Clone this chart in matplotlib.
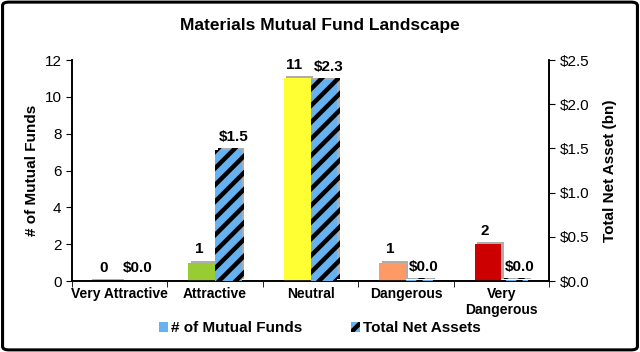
import matplotlib
matplotlib.use('Agg')
import matplotlib.pyplot as plt
import numpy as np
from matplotlib.patches import FancyBboxPatch, Patch
import matplotlib.patheffects as pe

plt.rcParams['font.family'] = ['Liberation Sans', 'DejaVu Sans']
plt.rcParams['hatch.linewidth'] = 3.2

categories = ['Very Attractive', 'Attractive', 'Neutral', 'Dangerous', 'Very\nDangerous']
fund_counts = [0, 1, 11, 1, 2]
net_assets = [0.0, 1.48, 2.27, 0.01, 0.01]
count_colors = ['#A6A6A6', '#99CC33', '#FFFF33', '#FF9966', '#CC0000']
asset_labels = ['$0.0', '$1.5', '$2.3', '$0.0', '$0.0']

fig = plt.figure(figsize=(6.4, 3.52), dpi=100)
ax = fig.add_axes([0.1125, 0.2017, 0.7455, 0.6278])
ax2 = ax.twinx()

x = np.arange(len(categories))
w = 0.28
shadow = [pe.SimplePatchShadow(offset=(1.8, 1.5), shadow_rgbFace='#8C8C8C', alpha=0.7), pe.Normal()]

bars1 = ax.bar(x - w / 2, fund_counts, w, color=count_colors, edgecolor='#A6A6A6',
               linewidth=0, path_effects=shadow, zorder=3)
# zero-height bar still shows a thin grey line in the reference
ax.plot([x[0] - w, x[0] + 0.02], [0.03, 0.03], color='#A6A6A6', lw=2, zorder=2)
bars2 = ax2.bar(x + w / 2, net_assets, w, color='#66B2F0', edgecolor='black', hatch='//',
                linewidth=0, path_effects=shadow, zorder=3)

ax.set_xlim(-0.5, len(categories) - 0.5)
ax.set_ylim(0, 12)
ax.set_yticks(np.arange(0, 13, 2))
ax2.set_ylim(0, 2.5)
ax2.set_yticks(np.arange(0, 2.51, 0.5))
ax2.set_yticklabels([f'${v:.1f}' for v in np.arange(0, 2.51, 0.5)])

ax.set_xticks(x)
ax.set_xticklabels(categories, fontweight='bold', fontsize=10)
ax.set_xticks(np.arange(-0.5, len(categories), 1), minor=True)
ax.tick_params(axis='x', which='major', length=0, pad=4)
ax.tick_params(axis='x', which='minor', length=4, direction='out')
ax.tick_params(axis='y', labelsize=11, length=4)
ax2.tick_params(axis='y', labelsize=11, length=4)

for a in (ax, ax2):
    a.spines['top'].set_visible(False)
    for s in ('left', 'right', 'bottom'):
        a.spines[s].set_linewidth(1.2)

ax.set_ylabel('# of Mutual Funds', fontweight='bold', fontsize=11)
ax2.set_ylabel('Total Net Asset (bn)', fontweight='bold', fontsize=11, labelpad=10)

for b, v in zip(bars1, fund_counts):
    ax.text(b.get_x() + b.get_width() / 2 - 0.03, b.get_height() + 0.35, str(v),
            ha='center', va='bottom', fontweight='bold', fontsize=11)
for b, lab in zip(bars2, asset_labels):
    ax2.text(b.get_x() + b.get_width() / 2 + 0.05, b.get_height() + 0.07, lab,
             ha='center', va='bottom', fontweight='bold', fontsize=11)

fig.text(0.5, 0.927, 'Materials Mutual Fund Landscape', ha='center', va='center',
         fontweight='bold', fontsize=12.5)

handles = [Patch(facecolor='#66B2F0'),
           Patch(facecolor='#66B2F0', edgecolor='black', hatch='//', linewidth=0)]
fig.legend(handles, ['# of Mutual Funds', 'Total Net Assets'], loc='center',
           bbox_to_anchor=(0.5, 0.068), ncol=2, frameon=False, handlelength=0.6,
           handleheight=0.6, handletextpad=0.2, columnspacing=3.2,
           prop={'weight': 'bold', 'size': 11})

frame = FancyBboxPatch((0.004, 0.006), 0.992, 0.988, boxstyle='round,pad=0,rounding_size=0.01',
                       transform=fig.transFigure, facecolor='none', edgecolor='black', linewidth=2.2)
fig.patches.append(frame)

fig.savefig('out.png', dpi=100)
